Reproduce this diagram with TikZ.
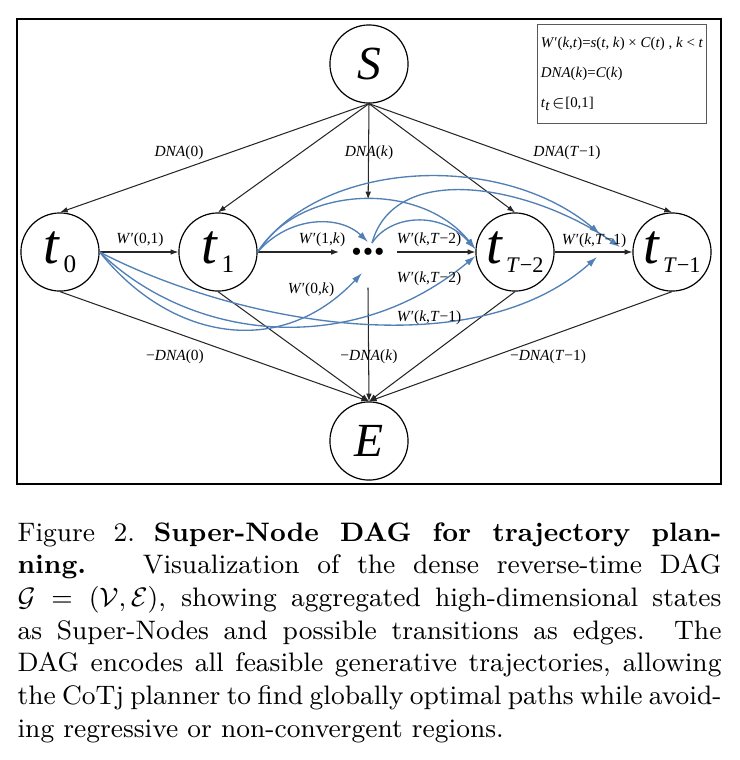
\documentclass[tikz,border=0pt]{standalone}
\usepackage{fontspec}
\usetikzlibrary{arrows.meta,positioning}
\newfontfamily\tnr{Liberation Serif}
\definecolor{wblue}{RGB}{80,128,182}
\newcommand{\tsub}[2][8.5]{\textit{t}\hspace{1pt}\raisebox{-3.2pt}{\fontsize{#1}{#1}\selectfont #2}}
\newcommand{\kdots}{\makebox[3.8pt]{$\bullet$}\makebox[3.8pt]{$\bullet$}\makebox[3.8pt]{$\bullet$}}

\begin{document}
\begin{tikzpicture}[x=0.3367pt,y=-0.3367pt,
  state/.style={circle,draw,line width=0.4pt,minimum size=26.3pt,inner sep=0pt,font=\tnr\fontsize{19}{19}\selectfont},
  endstate/.style={state,font=\tnr\fontsize{16}{16}\selectfont},
  dotsbox/.style={minimum width=19.2pt,minimum height=23.6pt,inner sep=0pt,font=\fontsize{3.6}{4}\selectfont},
  lbl/.style={font=\tnr\fontsize{5.2}{6}\selectfont,inner sep=0pt},
  keybox/.style={draw=black!65,line width=0.4pt,minimum width=54.2pt,minimum height=33.3pt,align=left,inner sep=1.3pt,font=\tnr\fontsize{5}{10.1}\selectfont},
  flowedge/.style={draw=black!85,line width=0.35pt,-{Latex[length=2.6pt,width=1.9pt]}},
  skipedge/.style={draw=wblue,line width=0.45pt,-{Latex[length=3.6pt,width=2.3pt]}}]
\useasboundingbox (0,0) rectangle (740,760);
\draw [line width=0.5pt] (17,19) rectangle (721,484);

\node[endstate] (S) at (369,64) {\textit{S}};
\node[state] (t0) at (60,252) {\tsub{0}};
\node[state] (t1) at (218,252) {\tsub{1}};
\node[dotsbox] (dots) at (368,252) {\kdots};
\node[state] (tT2) at (515,252) {\tsub[7.5]{\textit{T}−2}};
\node[state] (tT1) at (672,252) {\tsub[7.5]{\textit{T}−1}};
\node[endstate] (E) at (369,441) {\textit{E}};

\node[keybox] (key) at (622,74) {\textit{W}′(\textit{k},\textit{t})=\textit{s}(\textit{t}, \textit{k}) × \textit{C}(\textit{t}) , \textit{k} < \textit{t}\\
  \textit{DNA}(\textit{k})=\textit{C}(\textit{k})\\
  \textit{t}\textsubscript{\textit{t}}$\in$[0,1]};

\foreach \n in {t0,t1,tT2,tT1}
{       \draw [flowedge] (S.south) -- (\n.north);
        \draw [flowedge] (\n.south) -- (E.north);
}
\draw [flowedge,shorten >=5.7pt] (S.south) -- (dots.north);
\draw [flowedge] (dots.south) -- (E.north);
\draw [flowedge] (t0) -- (t1);
\draw [flowedge] (t1) -- (dots);
\draw [flowedge] (dots) -- (tT2);
\draw [flowedge] (tT2) -- (tT1);

\coordinate (inA) at (600,234);
\coordinate (inE) at (620,247);
\coordinate (inH) at (597,257);
\draw [skipedge] (t1.east) .. controls (320,160) and (500,150) .. (inA);
\draw [skipedge] (t1.east) .. controls (300,185) and (420,180) .. ([shift={(0,-3)}]tT2.west);
\draw [skipedge] (t1.east) .. controls (290,215) and (340,215) .. ([shift={(0,-10)}]dots.center);
\draw [skipedge] ([shift={(4,-9)}]dots.center) .. controls (390,215) and (440,210) .. ([shift={(0,-3)}]tT2.west);
\draw [skipedge] ([shift={(4,-9)}]dots.center) .. controls (395,160) and (530,185) .. (inE);
\draw [skipedge] (t0.east) .. controls (170,340) and (280,360) .. ([shift={(-6,21)}]dots.center);
\draw [skipedge] (t0.east) .. controls (190,340) and (350,360) .. ([shift={(0,4)}]tT2.west);
\draw [skipedge] (t0.east) .. controls (230,320) and (470,370) .. (inH);

\node[lbl] (dna0) at (179,153) {\textit{DNA}(0)};
\node[lbl] (dnak) at (369,153) {\textit{DNA}(\textit{k})};
\node[lbl] (dnaT) at (567,153) {\textit{DNA}(\textit{T}−1)};
\node[lbl] (w01) at (140,240) {\textit{W}′(0,1)};
\node[lbl] (w1k) at (322,240) {\textit{W}′(1,\textit{k})};
\node[lbl] (wkT2) at (429,240) {\textit{W}′(\textit{k},\textit{T}−2)};
\node[lbl] (wkT1) at (594,241) {\textit{W}′(\textit{k},\textit{T}−1)};
\node[lbl] (w0k) at (311,290) {\textit{W}′(0,\textit{k})};
\node[lbl] (wkT2b) at (429,279) {\textit{W}′(\textit{k},\textit{T}−2)};
\node[lbl] (wkT1b) at (429,318) {\textit{W}′(\textit{k},\textit{T}−1)};
\node[lbl] (ndna0) at (175,357) {−\textit{DNA}(0)};
\node[lbl] (ndnak) at (369,357) {−\textit{DNA}(\textit{k})};
\node[lbl] (ndnaT) at (548,357) {−\textit{DNA}(\textit{T}−1)};

\node[anchor=base west,text width=237pt,align=justify,inner sep=0pt,font=\fontsize{9}{11}\selectfont] (caption) at (17,541)
 {Figure 2.\hspace{0.7em}\textbf{Super-Node DAG for trajectory plan-\linebreak ning.}\hspace{0.7em} Visualization of the dense reverse-time DAG\linebreak
  $\mathcal{G}=(\mathcal{V},\mathcal{E})$, showing aggregated high-dimensional states\linebreak
  as Super-Nodes and possible transitions as edges.\ \ The\linebreak
  DAG encodes all feasible generative trajectories, allowing\linebreak
  the CoTj planner to find globally optimal paths while avoid-\linebreak
  ing regressive or non-convergent regions.};
\end{tikzpicture}
\end{document}
